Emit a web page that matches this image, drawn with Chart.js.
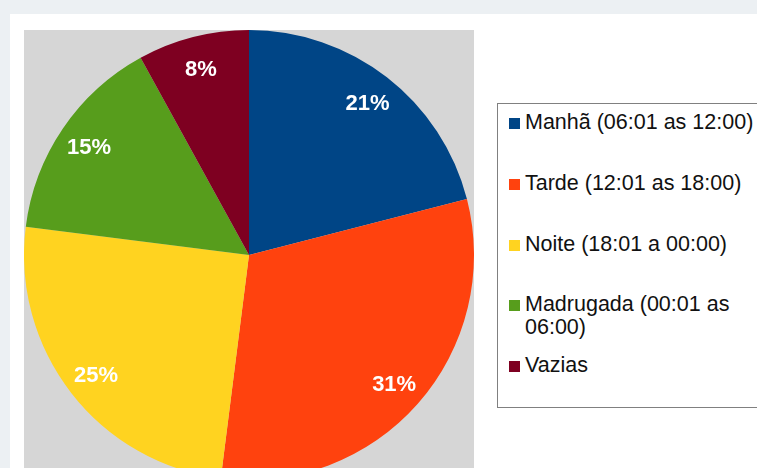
<!DOCTYPE html>
<html>
<head>
<meta charset="utf-8">
<script src="https://cdn.jsdelivr.net/npm/chart.js@4"></script>
<style>
    html, body { margin: 0; padding: 0; overflow: hidden; }
    body { width: 757px; height: 468px; background: #ecf0f3; position: relative; font-family: "Liberation Sans", Arial, sans-serif; }
    #panel { position: absolute; left: 10px; top: 14px; width: 760px; height: 470px; background: #fff; }
    #pieChart { position: absolute; left: 24px; top: 30px; background: #d6d6d6; }
    #legend { position: absolute; left: 497px; top: 103px; width: 280px; height: 303px; border: 1px solid #808080; background: #fff; }
    .item { position: absolute; left: 11px; font-size: 21.5px; line-height: 23px; color: #111; }
    .item .box { position: absolute; left: 0; top: 7px; width: 11px; height: 11px; }
    .item .txt { position: absolute; left: 16px; top: 0; width: 240px; }
</style>
</head>
<body>
<div id="panel"></div>
<canvas id="pieChart" width="450" height="450"></canvas>
<div id="legend"></div>
<script>
// ข้อมูลของแผนภูมิ
var periodos = ['Manhã (06:01 as 12:00)', 'Tarde (12:01 as 18:00)', 'Noite (18:01 a 00:00)', 'Madrugada (00:01 as 06:00)', 'Vazias'];
var percentuais = [21, 31, 25, 15, 8];
var cores = ['#004586', '#ff420e', '#ffd320', '#579d1c', '#7e0021'];

// ป้ายเปอร์เซ็นต์บนแต่ละชิ้น
var percentLabels = {
    id: 'percentLabels',
    afterDatasetsDraw: function (chart) {
        var ctx = chart.ctx;
        var meta = chart.getDatasetMeta(0);
        ctx.save();
        ctx.fillStyle = '#ffffff';
        ctx.font = 'bold 22px "Liberation Sans", Arial, sans-serif';
        ctx.textAlign = 'center';
        ctx.textBaseline = 'middle';
        meta.data.forEach(function (arc, i) {
            var p = arc.getProps(['x', 'y', 'startAngle', 'endAngle', 'outerRadius'], true);
            var mid = (p.startAngle + p.endAngle) / 2;
            var r = p.outerRadius * 0.86;
            ctx.fillText(percentuais[i] + '%', p.x + Math.cos(mid) * r, p.y + Math.sin(mid) * r + 2);
        });
        ctx.restore();
    }
};

var pieCtx = document.getElementById('pieChart').getContext('2d');
var pieChart = new Chart(pieCtx, {
    type: 'pie',
    data: {
        labels: periodos,
        datasets: [{
            data: percentuais,
            backgroundColor: cores,
            borderWidth: 0
        }]
    },
    options: {
        responsive: false,
        animation: false,
        layout: { padding: 0 },
        plugins: {
            legend: { display: false },
            tooltip: { enabled: false }
        }
    },
    plugins: [percentLabels]
});

// คำอธิบายแผนภูมิ
var legendEl = document.getElementById('legend');
periodos.forEach(function (nome, i) {
    var item = document.createElement('div');
    item.className = 'item';
    item.style.top = (7 + i * 60.75) + 'px';
    item.innerHTML = '<span class="box" style="background:' + cores[i] + '"></span><span class="txt">' + nome + '</span>';
    legendEl.appendChild(item);
});
</script>
</body>
</html>
